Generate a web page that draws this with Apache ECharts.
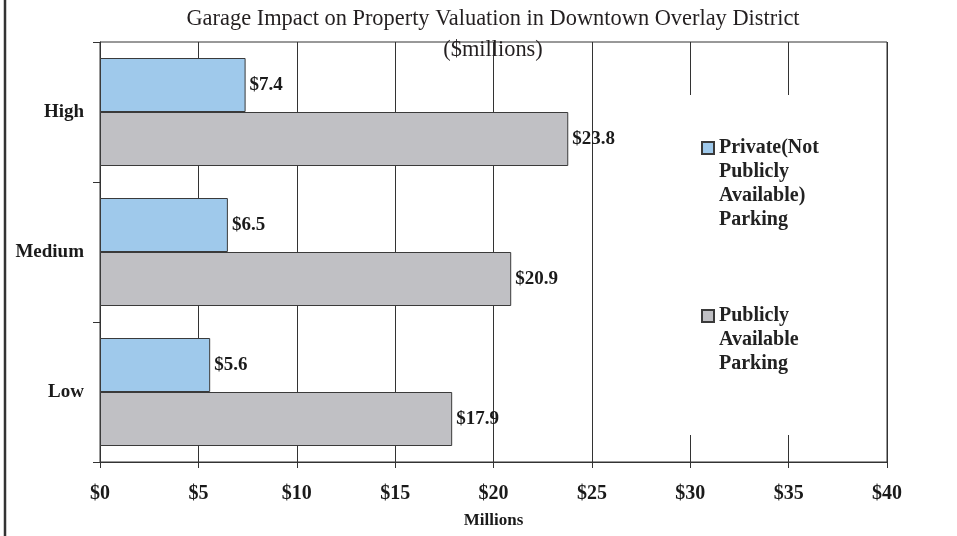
<!DOCTYPE html>
<html>
<head>
<meta charset="utf-8">
<script src="https://cdn.jsdelivr.net/npm/echarts@6/dist/echarts.min.js"></script>
<style>html,body{margin:0;padding:0;background:#fff}#c{width:957px;height:536px}</style>
</head>
<body>
<div id="c"></div>
<script>
var categories = ['Low', 'Medium', 'High'];
var privateValues = [5.6, 6.5, 7.4];
var publicValues = [17.9, 20.9, 23.8];
var seriesNames = ['Private(Not\nPublicly\nAvailable)\nParking', 'Publicly\nAvailable\nParking'];
var xTicks = [0, 5, 10, 15, 20, 25, 30, 35, 40];

var FONT = '"Liberation Serif", "Times New Roman", serif';
var chart = echarts.init(document.getElementById('c'), null, {renderer: 'canvas'});

var labelStyle = {
  show: true, position: 'right', distance: 4,
  fontFamily: FONT, fontWeight: 'bold', fontSize: 19, color: '#1a1a1a',
  formatter: function (p) { return '$' + p.value.toFixed(1); }
};

// Pad the legend text above with empty lines so the icon lines up with the first line.
function topAlign(name) {
  var n = name.split('\n').length;
  return new Array(n).join('\n') + name;
}

var legendText = {fontFamily: FONT, fontWeight: 'bold', fontSize: 20, color: '#222', lineHeight: 24};

chart.setOption({
  backgroundColor: '#ffffff',
  animation: false,
  title: {
    text: 'Garage Impact on Property Valuation in Downtown Overlay District\n($millions)',
    left: 493, top: 4, textAlign: 'center', padding: 0,
    textStyle: {fontFamily: FONT, fontWeight: 'normal', fontSize: 22.4, color: '#231f20', lineHeight: 31}
  },
  grid: {left: 100, right: 70, top: 42, bottom: 74, show: true, borderColor: '#333', borderWidth: 1, backgroundColor: 'transparent'},
  legend: [
    {
      data: [seriesNames[0]], formatter: topAlign,
      orient: 'vertical', left: 701, top: 64, padding: 0, itemWidth: 12, itemHeight: 12,
      icon: 'rect', z: 6, textStyle: legendText
    },
    {
      data: [seriesNames[1]], formatter: topAlign,
      orient: 'vertical', left: 701, top: 256, padding: 0, itemWidth: 12, itemHeight: 12,
      icon: 'rect', z: 6, textStyle: legendText
    }
  ],
  xAxis: {
    type: 'value', min: xTicks[0], max: xTicks[xTicks.length - 1], interval: 5,
    axisLine: {show: true, lineStyle: {color: '#333', width: 1}},
    axisTick: {show: true, length: 6, lineStyle: {color: '#333'}},
    splitLine: {show: true, lineStyle: {color: '#333', width: 1}},
    axisLabel: {margin: 22, fontFamily: FONT, fontWeight: 'bold', fontSize: 20, color: '#1a1a1a',
      formatter: function (v) { return '$' + v; }},
    name: 'Millions', nameLocation: 'middle', nameGap: 50,
    nameTextStyle: {fontFamily: FONT, fontWeight: 'bold', fontSize: 17, color: '#1a1a1a'}
  },
  yAxis: {
    type: 'category', data: categories,
    axisLine: {show: true, lineStyle: {color: '#333', width: 1}},
    axisTick: {show: true, length: 7, alignWithLabel: false, lineStyle: {color: '#333'}},
    axisLabel: {margin: 16, fontFamily: FONT, fontWeight: 'bold', fontSize: 19, color: '#1a1a1a'},
    splitLine: {show: false}
  },
  graphic: [
    {type: 'rect', shape: {x: 682, y: 95, width: 190, height: 340}, style: {fill: '#ffffff'}, z: 5, silent: true},
    {type: 'line', shape: {x1: 5, y1: 0, x2: 5, y2: 536}, style: {stroke: '#333', lineWidth: 2.5}, z: 5, silent: true}
  ],
  series: [
    {
      name: seriesNames[0], type: 'bar', data: privateValues,
      barWidth: 54, barGap: '0%',
      itemStyle: {color: '#9fc9eb', borderColor: '#3a3a3a', borderWidth: 1},
      label: labelStyle
    },
    {
      name: seriesNames[1], type: 'bar', data: publicValues,
      barWidth: 54, barGap: '0%',
      itemStyle: {color: '#c0c0c4', borderColor: '#3a3a3a', borderWidth: 1},
      label: labelStyle
    }
  ]
});
</script>
</body>
</html>
